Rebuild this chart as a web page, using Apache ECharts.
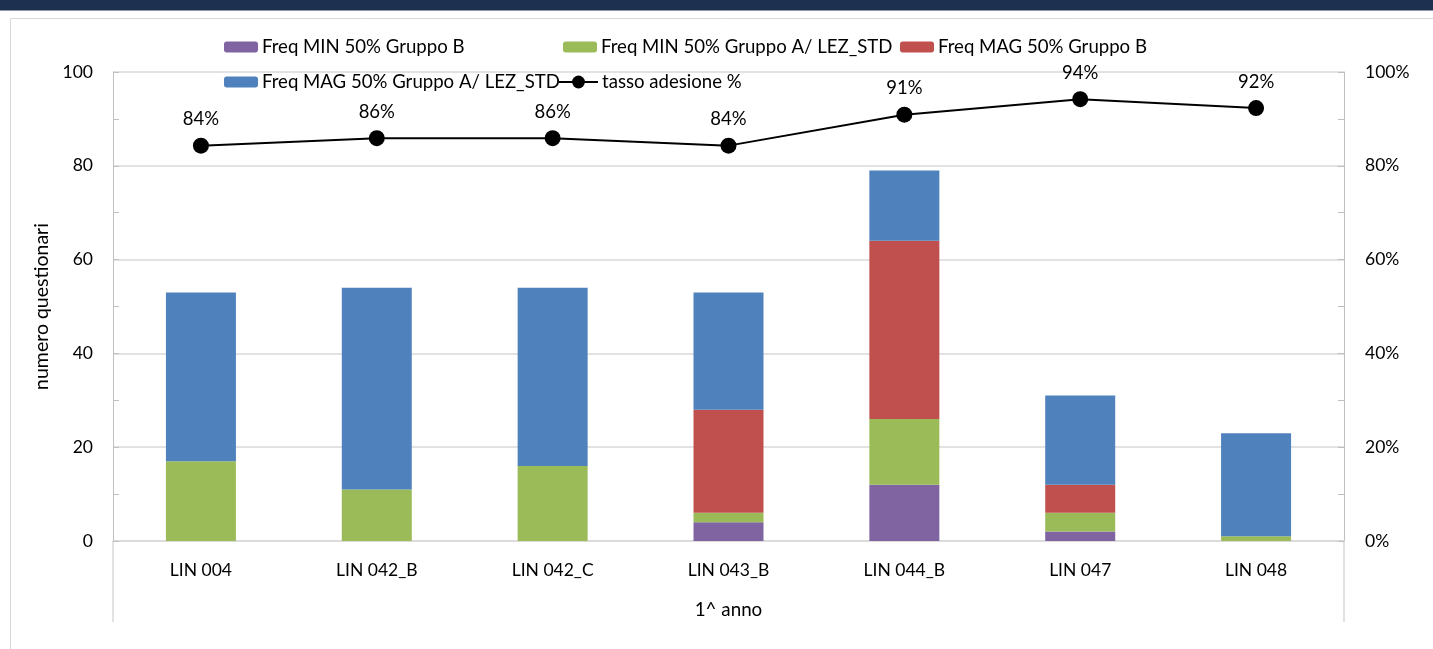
<!DOCTYPE html>
<html>
<head>
<meta charset="utf-8">
<script src="https://cdn.jsdelivr.net/npm/echarts@6/dist/echarts.min.js"></script>
<style>
html,body{margin:0;padding:0;background:#fff;}
#main{width:1433px;height:649px;}
</style>
</head>
<body>
<div id="main"></div>
<script>
const categories = ['LIN 004','LIN 042_B','LIN 042_C','LIN 043_B','LIN 044_B','LIN 047','LIN 048'];
const minGruppoB = [0,0,0,4,12,2,0];
const minGruppoA = [17,11,16,2,14,4,1];
const magGruppoB = [0,0,0,22,38,6,0];
const magGruppoA = [36,43,38,25,15,19,22];
const tassoAdesione = [84.3,85.9,85.9,84.3,90.9,94.2,92.3];
const seriesNames = ['Freq MIN 50% Gruppo B','Freq MIN 50% Gruppo A/ LEZ_STD','Freq MAG 50% Gruppo B','Freq MAG 50% Gruppo A/ LEZ_STD','tasso adesione %'];
const xAxisTitle = '1^ anno';
const yAxisTitle = 'numero questionari';

const FONT = 'Lato';
const FS = 17.5;
const LFS = 18.6;
const colors = ['#8064a2','#9bbb59','#c0504d','#4f81bd','#000000'];

const chart = echarts.init(document.getElementById('main'), null, {renderer:'canvas'});

function legendAt(name, left, top, w, h){
  return {
    data:[name], left:left, top:top, itemWidth:w||34, itemHeight:h||11, itemGap:0,
    padding:0, selectedMode:false,
    textStyle:{fontFamily:FONT, fontSize:LFS, color:'#000', padding:[0,0,0,-1], lineHeight:20}
  };
}

const barBase = {type:'bar', stack:'tot', barWidth:70, yAxisIndex:0};

const option = {
  backgroundColor:'#ffffff',
  animation:false,
  color:colors,
  textStyle:{fontFamily:FONT},
  legend:[
    legendAt(seriesNames[0], 224, 37),
    legendAt(seriesNames[1], 563, 37),
    legendAt(seriesNames[2], 900, 37),
    legendAt(seriesNames[3], 224, 72),
    legendAt(seriesNames[4], 558, 72, 39, 16)
  ],
  grid:{left:113, right:89, top:72, bottom:108, containLabel:false, outerBoundsMode:'none'},
  xAxis:{
    type:'category', data:categories,
    name:xAxisTitle, nameLocation:'middle', nameGap:59,
    nameTextStyle:{fontFamily:FONT, fontSize:18.8, color:'#000'},
    axisLine:{show:true, lineStyle:{color:'#d9d9d9', width:1.5}},
    axisTick:{show:false},
    axisLabel:{fontFamily:FONT, fontSize:FS, color:'#000', margin:20},
    splitLine:{show:false}
  },
  yAxis:[
    {
      type:'value', min:0, max:100, interval:20,
      name:yAxisTitle, nameLocation:'middle', nameGap:57, nameRotate:90,
      nameTextStyle:{fontFamily:FONT, fontSize:19.5, color:'#000'},
      axisLine:{show:true, lineStyle:{color:'#bfbfbf'}},
      axisTick:{show:true, inside:true, length:6, lineStyle:{color:'#bfbfbf'}},
      minorTick:{show:true, splitNumber:2, length:6, lineStyle:{color:'#bfbfbf'}},
      axisLabel:{fontFamily:FONT, fontSize:FS, color:'#000', margin:20},
      splitLine:{show:true, lineStyle:{color:'#d9d9d9', width:1.5}}
    },
    {
      type:'value', min:0, max:100, interval:20, position:'right',
      axisLine:{show:true, lineStyle:{color:'#bfbfbf'}},
      axisTick:{show:true, inside:true, length:6, lineStyle:{color:'#bfbfbf'}},
      minorTick:{show:true, splitNumber:2, length:6, lineStyle:{color:'#bfbfbf'}},
      axisLabel:{fontFamily:FONT, fontSize:FS, color:'#000', margin:21, formatter:'{value}%'},
      splitLine:{show:false}
    }
  ],
  series:[
    Object.assign({name:seriesNames[0], data:minGruppoB, itemStyle:{color:colors[0]}}, barBase),
    Object.assign({name:seriesNames[1], data:minGruppoA, itemStyle:{color:colors[1]}}, barBase),
    Object.assign({name:seriesNames[2], data:magGruppoB, itemStyle:{color:colors[2]}}, barBase),
    Object.assign({name:seriesNames[3], data:magGruppoA, itemStyle:{color:colors[3]}}, barBase),
    {
      name:seriesNames[4], type:'line', yAxisIndex:1, data:tassoAdesione,
      symbol:'circle', symbolSize:16,
      lineStyle:{color:'#000', width:2}, itemStyle:{color:'#000'},
      label:{show:true, position:'top', distance:9, fontFamily:FONT, fontSize:18.5, color:'#000',
        formatter:p=>Math.round(p.value)+'%'},
      z:5
    }
  ]
};
chart.setOption(option);

// decorative frame: navy band, chart-area border, outer category-axis boundaries
const x0 = chart.convertToPixel({xAxisIndex:0}, 0);
const x1 = chart.convertToPixel({xAxisIndex:0}, 1);
const band = x1 - x0;
const leftB = x0 - band/2;
const rightB = chart.convertToPixel({xAxisIndex:0}, categories.length-1) + band/2;
const yZero = chart.convertToPixel({yAxisIndex:0}, 0);
chart.setOption({
  graphic:[
    {type:'rect', shape:{x:0,y:0,width:1433,height:10.5}, style:{fill:'#1e3050'}, silent:true},
    {type:'line', shape:{x1:10.5,y1:18.5,x2:1433,y2:18.5}, style:{stroke:'#d9d9d9', lineWidth:1}, silent:true},
    {type:'line', shape:{x1:10.5,y1:18.5,x2:10.5,y2:649}, style:{stroke:'#d9d9d9', lineWidth:1}, silent:true},
    {type:'line', shape:{x1:leftB,y1:yZero,x2:leftB,y2:yZero+81}, style:{stroke:'#d9d9d9', lineWidth:1.5}, silent:true},
    {type:'line', shape:{x1:rightB,y1:yZero,x2:rightB,y2:yZero+81}, style:{stroke:'#d9d9d9', lineWidth:1.5}, silent:true}
  ]
});
</script>
</body>
</html>
